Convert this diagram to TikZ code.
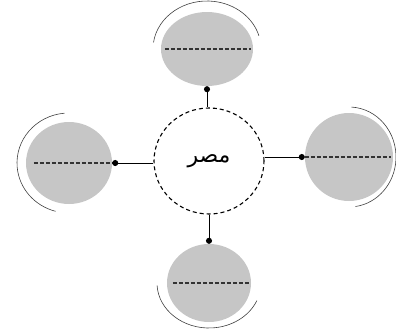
\documentclass[tikz,border=0pt]{standalone}
\usepackage{fontspec}
\TeXXeTstate=1
\newfontfamily\arabicfont[Script=Arabic]{DejaVu Sans}
\usetikzlibrary{shapes.geometric,arrows.meta}
\tikzset{
  blob/.style={ellipse,fill=gray!45,inner sep=0pt},
  hub/.style={ellipse,draw=black,dashed,line width=1.1pt,dash pattern=on 4pt off 3pt,inner sep=0pt,minimum width=110pt,minimum height=106pt},
  link/.style={line width=0.9pt,-{Circle[length=6pt]}},
  midline/.style={line width=1.1pt,dash pattern=on 4pt off 2pt,draw=black!80},
  rim/.style={line width=0.6pt,draw=black!75}
}
\begin{document}
\begin{tikzpicture}[x=1pt,y=-1pt]
\useasboundingbox (0,0) rectangle (396,335);
\node[hub] (c) at (209,161) {\fontsize{22}{24}\selectfont\arabicfont\beginR مصر\endR};
\node[blob,minimum width=92pt,minimum height=74pt] (t) at (207,49) {};
\node[blob,minimum width=84pt,minimum height=78pt] (b) at (209,283) {};
\node[blob,minimum width=86pt,minimum height=82pt] (l) at (69,163) {};
\node[blob,minimum width=88pt,minimum height=88pt] (r) at (349,157) {};
% middle dashed lines
\draw[midline] ([xshift=4pt]t.west) -- ([xshift=-2pt]t.east);
\draw[midline] ([xshift=6pt]b.west) -- ([xshift=-2pt]b.east);
\draw[midline] ([xshift=8pt]l.west) -- (l.east);
\draw[midline] (r.west) -- ([xshift=-2pt]r.east);
% connectors
\draw[link] (c.north -| t.south) -- (t.south);
\draw[link] (c.south -| b.north) -- (b.north);
\draw[link] (c.west |- l.east) -- (l.east);
\draw[link] (c.east |- r.west) -- (r.west);
% outer arcs
\draw[rim] (t.center) ++(172:54pt and 48pt) arc[start angle=172,end angle=16,x radius=54pt,y radius=48pt];
\draw[rim] (b.center) ++(183:52pt and 45pt) arc[start angle=183,end angle=337,x radius=52pt,y radius=45pt];
\draw[rim] (l.center) ++(95:52pt and 50pt) arc[start angle=95,end angle=255,x radius=52pt,y radius=50pt];
\draw[rim] (r.center) ++(87:47pt and 50pt) arc[start angle=87,end angle=-82,x radius=47pt,y radius=50pt];
\end{tikzpicture}
\end{document}
